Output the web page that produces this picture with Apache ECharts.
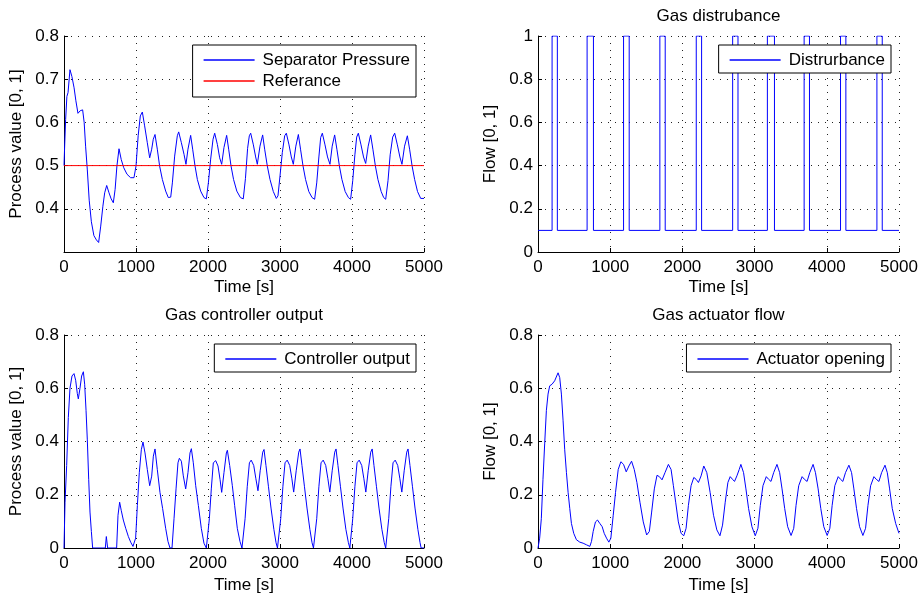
<!DOCTYPE html>
<html>
<head>
<meta charset="utf-8">
<script src="https://cdn.jsdelivr.net/npm/echarts@6/dist/echarts.min.js"></script>
<style>
html,body{margin:0;padding:0;background:#fff;}
#chart{width:923px;height:595px;}
</style>
</head>
<body>
<div id="chart"></div>
<script>
// ---------- DATA ----------
const timeTicks = [0, 1000, 2000, 3000, 4000, 5000];

const pressure = [[0,0.50],[10,0.55],[23,0.607],[40,0.66],[56,0.669],[83,0.722],[110,0.706],[140,0.68],[165,0.65],[194,0.621],[225,0.627],[259,0.629],[280,0.60],[300,0.545],[324,0.49],[350,0.42],[380,0.37],[415,0.338],[450,0.328],[481,0.322],[510,0.36],[540,0.406],[565,0.437],[593,0.454],[625,0.437],[655,0.423],[685,0.414],[710,0.445],[735,0.499],[764,0.539],[795,0.514],[830,0.495],[875,0.48],[925,0.472],[972,0.472],[1000,0.499],[1030,0.569],[1060,0.615],[1088,0.624],[1120,0.592],[1157,0.553],[1190,0.518],[1218,0.538],[1240,0.561],[1264,0.572],[1296,0.538],[1328,0.499],[1366,0.468],[1412,0.441],[1449,0.426],[1482,0.427],[1505,0.46],[1537,0.522],[1574,0.569],[1593,0.578],[1630,0.553],[1667,0.526],[1694,0.503],[1722,0.538],[1759,0.57],[1787,0.538],[1820,0.499],[1852,0.468],[1898,0.441],[1944,0.426],[1977,0.423],[2005,0.46],[2037,0.515],[2070,0.561],[2093,0.575],[2130,0.549],[2162,0.518],[2190,0.503],[2222,0.542],[2259,0.57],[2287,0.538],[2320,0.499],[2355,0.468],[2400,0.441],[2450,0.426],[2490,0.423],[2520,0.47],[2550,0.54],[2574,0.569],[2593,0.575],[2630,0.548],[2662,0.52],[2685,0.503],[2722,0.545],[2759,0.571],[2787,0.538],[2824,0.499],[2861,0.468],[2907,0.44],[2949,0.424],[2972,0.43],[3000,0.476],[3032,0.53],[3065,0.569],[3088,0.575],[3125,0.548],[3157,0.52],[3185,0.503],[3220,0.545],[3255,0.572],[3285,0.538],[3320,0.499],[3355,0.468],[3400,0.44],[3445,0.426],[3481,0.422],[3510,0.46],[3540,0.52],[3565,0.565],[3588,0.575],[3625,0.548],[3660,0.52],[3694,0.503],[3725,0.545],[3759,0.571],[3790,0.538],[3825,0.499],[3860,0.468],[3905,0.44],[3950,0.426],[3981,0.422],[4010,0.465],[4040,0.525],[4065,0.566],[4088,0.575],[4125,0.548],[4160,0.52],[4190,0.505],[4225,0.545],[4259,0.571],[4290,0.538],[4325,0.499],[4360,0.468],[4405,0.44],[4440,0.426],[4468,0.422],[4500,0.465],[4530,0.525],[4565,0.566],[4593,0.575],[4630,0.548],[4665,0.52],[4694,0.503],[4730,0.545],[4769,0.569],[4800,0.538],[4835,0.499],[4870,0.468],[4910,0.44],[4954,0.424],[5000,0.424]];

const referance = [[0,0.5],[5000,0.5]];

// change times and value from that time onwards
const disturbance = [[0,0.1],[195,1],[268,0.1],[680,1],[768,0.1],[1185,1],[1263,0.1],[1688,1],[1762,0.1],[2192,1],[2266,0.1],[2696,1],[2770,0.1],[3177,1],[3275,0.1],[3686,1],[3760,0.1],[4190,1],[4264,0.1],[4694,1],[4768,0.1],[5000,0.1]];

const controller = [[0,0],[14,0.17],[37,0.31],[60,0.49],[83,0.60],[111,0.646],[139,0.655],[162,0.63],[185,0.58],[199,0.56],[222,0.60],[245,0.646],[269,0.662],[287,0.615],[306,0.517],[324,0.406],[343,0.258],[361,0.135],[380,0.062],[398,0],[574,0],[588,0.043],[606,0],[731,0],[750,0.123],[773,0.172],[796,0.14],[824,0.105],[857,0.074],[894,0.043],[926,0.022],[958,0.006],[981,0],[995,0.037],[1019,0.16],[1046,0.283],[1074,0.369],[1097,0.398],[1125,0.357],[1157,0.295],[1190,0.234],[1218,0.27],[1241,0.345],[1264,0.372],[1296,0.295],[1333,0.209],[1370,0.148],[1412,0.074],[1444,0.025],[1472,0],[1500,0],[1528,0.11],[1556,0.222],[1583,0.32],[1602,0.337],[1630,0.326],[1657,0.271],[1690,0.222],[1722,0.283],[1750,0.357],[1769,0.373],[1796,0.32],[1829,0.234],[1866,0.16],[1907,0.074],[1944,0.018],[1977,0],[2000,0],[2019,0.11],[2046,0.222],[2074,0.32],[2107,0.328],[2139,0.308],[2167,0.258],[2190,0.209],[2222,0.283],[2255,0.357],[2269,0.367],[2301,0.31],[2338,0.234],[2370,0.16],[2407,0.074],[2444,0.025],[2472,0],[2495,0],[2515,0.11],[2545,0.23],[2575,0.32],[2600,0.33],[2635,0.31],[2665,0.26],[2694,0.215],[2725,0.29],[2760,0.36],[2778,0.37],[2805,0.31],[2840,0.23],[2875,0.15],[2915,0.07],[2945,0.02],[2965,0],[2990,0],[3010,0.11],[3040,0.23],[3070,0.32],[3100,0.33],[3135,0.31],[3165,0.26],[3190,0.21],[3225,0.29],[3260,0.36],[3278,0.372],[3305,0.31],[3340,0.23],[3375,0.15],[3415,0.07],[3445,0.02],[3465,0],[3490,0],[3510,0.11],[3540,0.23],[3570,0.32],[3600,0.33],[3635,0.31],[3665,0.26],[3692,0.21],[3725,0.29],[3760,0.36],[3778,0.372],[3805,0.31],[3840,0.23],[3875,0.15],[3915,0.07],[3950,0.02],[3970,0],[3990,0],[4010,0.11],[4040,0.23],[4070,0.32],[4100,0.33],[4135,0.31],[4165,0.26],[4192,0.21],[4225,0.29],[4260,0.36],[4280,0.372],[4305,0.31],[4340,0.23],[4375,0.15],[4415,0.07],[4448,0.02],[4468,0],[4490,0],[4510,0.11],[4540,0.23],[4570,0.32],[4600,0.33],[4635,0.31],[4665,0.26],[4692,0.21],[4725,0.29],[4760,0.36],[4778,0.372],[4805,0.31],[4840,0.23],[4875,0.15],[4915,0.07],[4945,0.02],[4960,0],[5000,0]];

const actuator = [[0,0],[23,0.037],[46,0.11],[69,0.258],[93,0.394],[116,0.517],[139,0.578],[162,0.609],[194,0.615],[231,0.628],[259,0.646],[278,0.658],[301,0.64],[324,0.578],[347,0.48],[370,0.369],[394,0.283],[417,0.209],[440,0.148],[463,0.092],[495,0.055],[532,0.031],[579,0.022],[625,0.018],[671,0.012],[718,0.006],[741,0.025],[764,0.062],[796,0.098],[824,0.105],[857,0.092],[889,0.08],[917,0.055],[949,0.037],[981,0.022],[1009,0.037],[1042,0.123],[1074,0.209],[1111,0.295],[1148,0.324],[1185,0.314],[1222,0.286],[1259,0.308],[1296,0.326],[1333,0.295],[1370,0.246],[1412,0.172],[1458,0.098],[1505,0.049],[1542,0.062],[1574,0.135],[1611,0.222],[1648,0.273],[1681,0.268],[1718,0.256],[1759,0.283],[1806,0.314],[1843,0.295],[1875,0.234],[1907,0.172],[1944,0.098],[1982,0.055],[2019,0.046],[2051,0.074],[2083,0.16],[2120,0.234],[2158,0.265],[2190,0.258],[2222,0.246],[2259,0.271],[2296,0.308],[2338,0.283],[2384,0.209],[2431,0.123],[2477,0.068],[2520,0.046],[2556,0.086],[2593,0.172],[2630,0.246],[2662,0.268],[2694,0.258],[2722,0.25],[2755,0.271],[2787,0.295],[2810,0.314],[2847,0.283],[2880,0.222],[2917,0.148],[2963,0.08],[3009,0.046],[3046,0.074],[3079,0.16],[3116,0.234],[3162,0.268],[3194,0.258],[3227,0.25],[3264,0.283],[3310,0.314],[3347,0.283],[3380,0.222],[3417,0.148],[3458,0.08],[3505,0.047],[3542,0.074],[3574,0.16],[3611,0.234],[3658,0.268],[3690,0.258],[3727,0.25],[3764,0.283],[3810,0.314],[3843,0.283],[3880,0.222],[3917,0.148],[3958,0.08],[4005,0.047],[4042,0.074],[4074,0.16],[4111,0.234],[4158,0.268],[4190,0.258],[4222,0.25],[4259,0.283],[4306,0.311],[4343,0.283],[4375,0.222],[4412,0.148],[4454,0.08],[4500,0.047],[4537,0.074],[4570,0.16],[4607,0.234],[4653,0.268],[4685,0.258],[4722,0.25],[4759,0.283],[4806,0.311],[4838,0.283],[4870,0.222],[4907,0.148],[4954,0.092],[5000,0.055]];

const titles = ['', 'Gas distrubance', 'Gas controller output', 'Gas actuator flow'];
const yNames = ['Process value [0, 1]', 'Flow [0, 1]', 'Process value [0, 1]', 'Flow [0, 1]'];
const xName = 'Time [s]';
const yRanges = [[0.3, 0.8, 0.1], [0, 1, 0.2], [0, 0.8, 0.2], [0, 0.8, 0.2]];

// ---------- STYLE / LAYOUT ----------
const FONT = 'Liberation Sans, Arial, Helvetica, sans-serif';
const FS = 17;
const grids = [
  {left: 64, top: 36, width: 360, height: 216},
  {left: 538, top: 36, width: 361, height: 216},
  {left: 64, top: 335, width: 360, height: 217},
  {left: 538, top: 335, width: 361, height: 217}
];
const BLUE = '#0000ff', RED = '#ff0000';

const gridLine = {show: true, lineStyle: {color: '#222', width: 1, type: [1, 6]}};

const xAxes = grids.map((g, i) => ({
  type: 'value', gridIndex: i, min: timeTicks[0], max: timeTicks[timeTicks.length - 1],
  interval: timeTicks[1] - timeTicks[0],
  name: xName, nameLocation: 'middle', nameGap: i < 2 ? 27 : 29,
  nameTextStyle: {fontFamily: FONT, fontSize: FS, color: '#000'},
  axisLine: {show: true, onZero: false, lineStyle: {color: '#000', width: 1}},
  axisTick: {show: true, inside: true, length: 4, lineStyle: {color: '#000'}},
  axisLabel: {fontFamily: FONT, fontSize: FS, color: '#000', margin: 7, showMinLabel: true, showMaxLabel: true,
    formatter: v => String(Math.round(v))},
  splitLine: gridLine
}));

const yAxes = grids.map((g, i) => ({
  type: 'value', gridIndex: i, min: yRanges[i][0], max: yRanges[i][1], interval: yRanges[i][2],
  name: yNames[i], nameLocation: 'middle', nameRotate: 90, nameGap: 39,
  nameTextStyle: {fontFamily: FONT, fontSize: FS, color: '#000'},
  axisLine: {show: true, onZero: false, lineStyle: {color: '#000', width: 1}},
  axisTick: {show: true, inside: true, length: 4, lineStyle: {color: '#000'}},
  axisLabel: {fontFamily: FONT, fontSize: FS, color: '#000', margin: 5,
    formatter: v => (i === 0 && v < 0.35) ? '' : String(+v.toFixed(1))},
  splitLine: gridLine
}));

const titleOpts = titles.map((t, i) => ({
  text: t, left: grids[i].left + grids[i].width / 2, top: grids[i].top - 28,
  textAlign: 'center', padding: 0,
  textStyle: {fontFamily: FONT, fontSize: FS, fontWeight: 'normal', color: '#000'}
}));

function legendOpt(names, right, top) {
  return {
    data: names.map(n => ({name: n, icon: 'rect'})), orient: 'vertical', right: right, top: top,
    backgroundColor: '#fff', borderColor: '#000', borderWidth: 1, borderRadius: 0,
    padding: [5, 6, names.length > 1 ? 6 : 3, 11],
    itemWidth: 51, itemHeight: 1.4, itemGap: 1,
    textStyle: {fontFamily: FONT, fontSize: FS, color: '#000', lineHeight: 20, padding: [0, 0, 0, 3]}
  };
}

function lineSeries(name, data, idx, color, extra) {
  return Object.assign({
    name: name, type: 'line', xAxisIndex: idx, yAxisIndex: idx, data: data,
    showSymbol: false, symbol: 'none', smooth: false, animation: false,
    lineStyle: {color: color, width: 1}, itemStyle: {color: color}, z: 3
  }, extra || {});
}

const option = {
  backgroundColor: '#fff',
  animation: false,
  title: titleOpts,
  grid: grids,
  xAxis: xAxes,
  yAxis: yAxes,
  legend: [
    legendOpt(['Separator Pressure', 'Referance'], 923 - 416, 45),
    legendOpt(['Distrurbance'], 923 - 891, 45),
    legendOpt(['Controller output'], 923 - 416, 344),
    legendOpt(['Actuator opening'], 923 - 891, 344)
  ],
  series: [
    lineSeries('Separator Pressure', pressure, 0, BLUE),
    lineSeries('Referance', referance, 0, RED, {z: 4}),
    lineSeries('Distrurbance', disturbance, 1, BLUE, {step: 'end'}),
    lineSeries('Controller output', controller, 2, BLUE),
    lineSeries('Actuator opening', actuator, 3, BLUE)
  ]
};

const chart = echarts.init(document.getElementById('chart'), null, {renderer: 'canvas'});
chart.setOption(option);
</script>
</body>
</html>
